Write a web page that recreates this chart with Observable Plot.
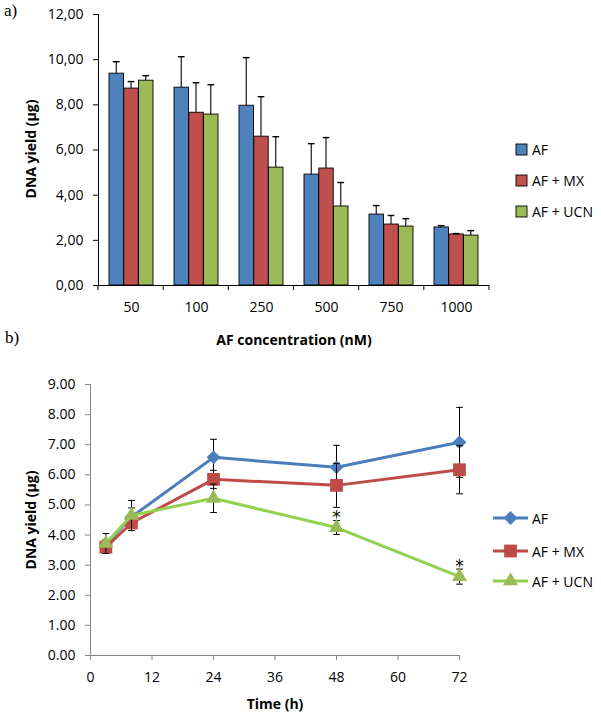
<!DOCTYPE html>
<html>
<head>
<meta charset="utf-8">
<script src="https://cdn.jsdelivr.net/npm/d3@7"></script>
<script src="https://cdn.jsdelivr.net/npm/@observablehq/plot@0.6"></script>
<style>
  body { margin: 0; background: #fff; }
  #root { position: relative; width: 601px; height: 718px; overflow: hidden; font-family: "Open Sans", sans-serif; color: #000; }
  .abs { position: absolute; }
  .panel-tag { font-family: "Liberation Serif", serif; font-size: 17px; }
  .title { font-weight: bold; font-size: 14px; white-space: nowrap; }
  .ytitle { transform: translate(-50%, -50%) rotate(-90deg); }
  .xtitle { transform: translate(-50%, -50%); }
  .leg { font-size: 14px; white-space: nowrap; display: flex; align-items: center; }
</style>
</head>
<body>
<div id="root"></div>
<script>
// ---------- Panel a data ----------
const concs = ["50", "100", "250", "500", "750", "1000"];
const seriesNames = ["AF", "AF + MX", "AF + UCN"];
const afA     = [9.38, 8.76, 7.96, 4.91, 3.14, 2.57];
const afAErr  = [0.53, 1.37, 2.13, 1.37, 0.40, 0.08];
const mxA     = [8.72, 7.65, 6.59, 5.18, 2.70, 2.26];
const mxAErr  = [0.31, 1.33, 1.77, 1.37, 0.40, 0.04];
const ucnA    = [9.07, 7.57, 5.22, 3.50, 2.61, 2.21];
const ucnAErr = [0.22, 1.32, 1.37, 1.06, 0.35, 0.22];
const yTicksA = [0, 2, 4, 6, 8, 10, 12];

// ---------- Panel b data ----------
const hours   = [3, 8, 24, 48, 72];
const afB     = [3.70, 4.60, 6.58, 6.25, 7.08];
const afBErr  = [0.15, 0.30, 0.60, 0.73, 1.16];
const mxB     = [3.60, 4.40, 5.85, 5.65, 6.17];
const mxBErr  = [0.21, 0.18, 0.30, 0.73, 0.80];
const ucnB    = [3.72, 4.65, 5.22, 4.25, 2.62];
const ucnBErr = [0.33, 0.50, 0.47, 0.23, 0.25];
const ucnStar = ["", "", "", "*", "*"];
const xTicksB = [0, 12, 24, 36, 48, 60, 72];
const yTicksB = [0, 1, 2, 3, 4, 5, 6, 7, 8, 9];

const barColors  = ["#4F81BD", "#C0504D", "#9BBB59"];
const lineColors = ["#4A7EBB", "#BE4B48", "#92D050"];
const markColors = ["#4A7EBB", "#BE4B48", "#9BBB59"];
const symbolsB   = ["diamond2", "square", "triangle"];
const radiiB     = [6.2, 7.2, 5.6];

const root = document.getElementById("root");
function add(html, cls, style) {
  const d = document.createElement("div");
  d.className = "abs " + cls;
  Object.assign(d.style, style);
  d.innerHTML = html;
  root.appendChild(d);
  return d;
}

// ---------- Panel a ----------
const valsA = [afA, mxA, ucnA], errsA = [afAErr, mxAErr, ucnAErr];
const rowsA = valsA.map((vals, k) => concs.map((c, i) => ({conc: c, k, v: vals[i], e: errsA[k][i]})));
const WA = 601, HA = 320, mL = 98, mR = 112, mT = 14, mB = 35;
const padA = 0.32;
const stepA = (WA - mL - mR) / concs.length;
const bw = stepA * (1 - padA);
const sub = bw / 3;

const marksA = [];
rowsA.forEach((rows, k) => {
  const left = k * sub, right = (2 - k) * sub;
  marksA.push(Plot.barY(rows, {x: "conc", y: "v", fill: barColors[k], stroke: "#000", strokeWidth: 0.9, insetLeft: left, insetRight: right}));
});
rowsA.forEach((rows, k) => {
  const cL = k * sub + sub / 2, cR = (2 - k) * sub + sub / 2;
  marksA.push(Plot.barY(rows, {x: "conc", y1: "v", y2: d => d.v + d.e, fill: "#000", insetLeft: cL - 0.7, insetRight: cR - 0.7}));
  marksA.push(Plot.tickY(rows, {x: "conc", y: d => d.v + d.e, stroke: "#000", strokeWidth: 1.4, insetLeft: cL - 3.5, insetRight: cR - 3.5}));
});
marksA.push(Plot.ruleY([0], {stroke: "#000", strokeWidth: 1}));

const chartA = Plot.plot({
  width: WA, height: HA, marginLeft: mL, marginRight: mR, marginTop: mT, marginBottom: mB,
  style: {fontFamily: "Open Sans", fontSize: "14px", color: "#000", background: "transparent"},
  x: {type: "band", domain: concs, paddingInner: padA, paddingOuter: padA / 2, align: 0.5, tickSize: 0, tickPadding: 17, label: null},
  y: {domain: [0, 12], ticks: yTicksA, tickSize: 5, tickPadding: 10, tickFormat: d => d.toFixed(2).replace(".", ","), label: null},
  marks: marksA
});
const wrapA = add("", "", {left: "0px", top: "0px"});
wrapA.appendChild(chartA);
{
  const svg = d3.select(chartA.tagName === "svg" ? chartA : chartA.querySelector("svg"));
  const sx = chartA.scale("x"), sy = chartA.scale("y");
  const [x0, x1] = sx.range, [y0, y1] = sy.range;
  const g = svg.append("g").attr("stroke", "#000").attr("stroke-width", 1);
  g.append("line").attr("x1", x0 + 0.5).attr("x2", x0 + 0.5).attr("y1", y0).attr("y2", y1);
  for (let i = 0; i <= concs.length; i++) {
    const x = x0 + i * (x1 - x0) / concs.length;
    g.append("line").attr("x1", x).attr("x2", x).attr("y1", y0).attr("y2", y0 + 5);
  }
}
add("a)", "panel-tag", {left: "4px", top: "1px"});
add("DNA yield (μg)", "title ytitle", {left: "30px", top: "149px"});
add("AF concentration (nM)", "title xtitle", {left: "294px", top: "339px"});
seriesNames.forEach((name, k) => {
  add(`<svg width="13" height="13" style="margin-right:4px"><rect x="1" y="1" width="11" height="11" fill="${barColors[k]}" stroke="#000" stroke-width="0.9"/></svg>${name}`,
      "leg", {left: "515px", top: (140 + k * 31) + "px", height: "18px"});
});

// ---------- Panel b ----------
const valsB = [afB, mxB, ucnB], errsB = [afBErr, mxBErr, ucnBErr];
const rowsB = valsB.map((vals, k) => hours.map((h, i) => ({h, k, v: vals[i], e: errsB[k][i], star: k === 2 ? ucnStar[i] : ""})));
const capSymbol = {draw(ctx, size) { const w = Math.sqrt(size) / 2; ctx.moveTo(-w, 0); ctx.lineTo(w, 0); }};
const TOPB = 370, WB = 601, HB = 348;
const marksB = [
  Plot.ruleX([0], {stroke: "#868686", strokeWidth: 1}),
  Plot.ruleY([0], {stroke: "#868686", strokeWidth: 1})
];
rowsB.forEach((rows, k) => {
  marksB.push(Plot.ruleX(rows, {x: "h", y1: d => d.v - d.e, y2: d => d.v + d.e, stroke: "#000", strokeWidth: 1}));
  marksB.push(Plot.dot(rows, {x: "h", y: d => d.v + d.e, symbol: capSymbol, r: 3.8, stroke: "#000", strokeWidth: 1, fill: "none"}));
  marksB.push(Plot.dot(rows, {x: "h", y: d => d.v - d.e, symbol: capSymbol, r: 3.8, stroke: "#000", strokeWidth: 1, fill: "none"}));
  marksB.push(Plot.line(rows, {x: "h", y: "v", stroke: lineColors[k], strokeWidth: 3}));
  marksB.push(Plot.dot(rows, {x: "h", y: "v", symbol: symbolsB[k], r: radiiB[k], fill: markColors[k], stroke: "none"}));
});
marksB.push(Plot.text(rowsB[2].filter(d => d.star), {x: "h", y: d => d.v + d.e, text: "star", dy: -3, fontSize: 17, fontFamily: "DejaVu Sans", fill: "#000"}));

const chartB = Plot.plot({
  width: WB, height: HB, marginLeft: 90, marginRight: 142, marginTop: 14, marginBottom: 63,
  style: {fontFamily: "Open Sans", fontSize: "14px", color: "#000", background: "transparent"},
  x: {domain: [0, 72], ticks: xTicksB, tickSize: 5, tickPadding: 12, label: null},
  y: {domain: [0, 9], ticks: yTicksB, tickSize: 5, tickPadding: 10, tickFormat: d => d.toFixed(2), label: null},
  marks: marksB
});
const wrapB = add("", "", {left: "0px", top: TOPB + "px"});
wrapB.appendChild(chartB);
{
  const svg = d3.select(chartB.tagName === "svg" ? chartB : chartB.querySelector("svg"));
  svg.selectAll('[aria-label="x-axis tick"], [aria-label="y-axis tick"], g[aria-label="x-axis"] line, g[aria-label="y-axis"] line').attr("stroke", "#868686");
}
add("b)", "panel-tag", {left: "5px", top: "328px"});
add("DNA yield (μg)", "title ytitle", {left: "30px", top: "520px"});
add("Time (h)", "title xtitle", {left: "275px", top: "703px"});
seriesNames.forEach((name, k) => {
  const sym = d3.symbol(d3["symbol" + ["Diamond2", "Square", "Triangle"][k]], Math.PI * radiiB[k] * radiiB[k])();
  add(`<svg width="38" height="18" style="margin-right:2px"><line x1="1" x2="36" y1="9" y2="9" stroke="${lineColors[k]}" stroke-width="3"/><path transform="translate(18.5,9)" d="${sym}" fill="${markColors[k]}"/></svg>${name}`,
      "leg", {left: "492px", top: (509 + [0, 33, 63][k]) + "px", height: "18px"});
});
</script>
</body>
</html>
